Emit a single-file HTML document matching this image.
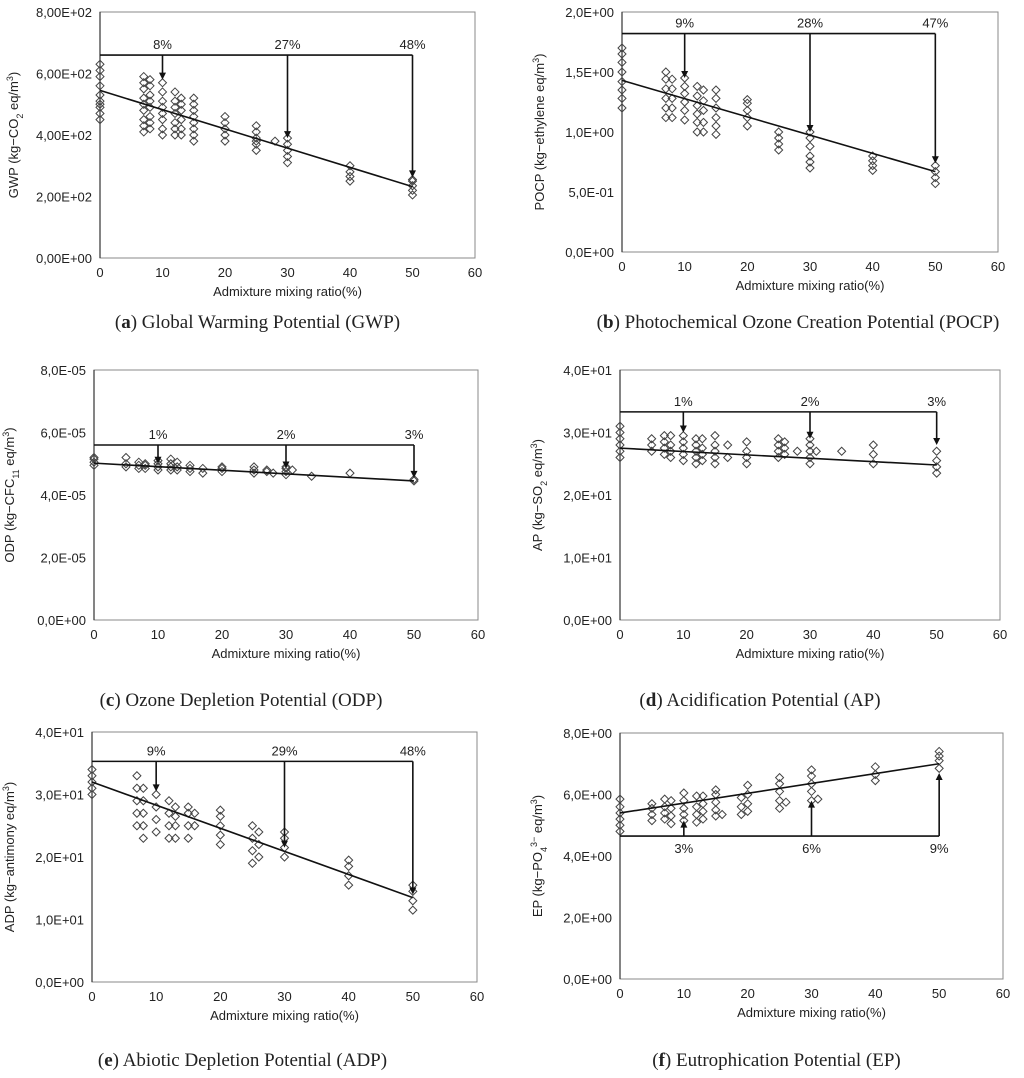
<!DOCTYPE html>
<html><head><meta charset="utf-8"><style>
body{margin:0;background:#fff;width:1024px;height:1078px;overflow:hidden}
svg{display:block}
.t{font-family:"Liberation Sans",sans-serif;font-size:13px;fill:#222}
.cap{font-family:"Liberation Serif",serif;font-size:19px;fill:#222}
</style></head><body>
<svg id="fig" width="1024" height="1078"></svg>
<script>
// ---------- data ----------
const xTicks=[0,10,20,30,40,50,60];
const aX=[0,7,8,10,12,13,15,20,25,28,30,40,50];
const aY=[[450,470,490,500,510,530,560,590,610,630],[410,430,450,480,500,520,550,570,590],[420,440,460,490,510,530,560,580],[400,420,450,470,490,510,540,570],[400,420,440,470,490,510,540],[400,420,450,480,500,520],[380,400,420,440,460,480,500,520],[380,400,420,440,460],[350,370,380,390,410,430],[380],[310,330,350,370,390],[250,265,280,300],[205,220,235,250,255]];
const aTicks=["0,00E+00","2,00E+02","4,00E+02","6,00E+02","8,00E+02"];
const aTrend=[545,232];const aBracket=660;const aArrowTo=[580,390,262];const aPct=["8%","27%","48%"];

const bX=[0,7,8,10,12,13,15,20,25,30,40,50];
const bY=[[1.2,1.28,1.35,1.42,1.5,1.58,1.65,1.7],[1.12,1.2,1.28,1.36,1.44,1.5],[1.12,1.2,1.28,1.36,1.44],[1.1,1.18,1.25,1.32,1.38,1.45],[1.0,1.08,1.15,1.22,1.3,1.38],[1.0,1.08,1.18,1.26,1.35],[0.98,1.05,1.12,1.2,1.28,1.35],[1.05,1.12,1.18,1.24,1.27],[0.85,0.9,0.95,1.0],[0.7,0.75,0.8,0.88,0.95,1.0],[0.68,0.72,0.76,0.8],[0.57,0.62,0.67,0.72]];
const bTicks=["0,0E+00","5,0E-01","1,0E+00","1,5E+00","2,0E+00"];
const bTrend=[1.43,0.67];const bBracket=1.82;const bArrowTo=[1.45,1.0,0.74];const bPct=["9%","28%","47%"];

const cX=[0,5,7,8,10,12,13,15,17,20,25,27,28,30,31,34,40,50];
const cY=[[4.95,5.05,5.15,5.2],[4.9,5.0,5.2],[4.85,4.95,5.05],[4.85,4.95,5.0],[4.8,4.9,5.0,5.1],[4.8,4.9,5.0,5.15],[4.8,4.9,5.05],[4.75,4.85,4.95],[4.7,4.85],[4.75,4.85,4.9],[4.7,4.8,4.9],[4.75,4.8],[4.7],[4.65,4.75,4.85,4.9],[4.8],[4.6],[4.7],[4.45,4.5]];
const cTicks=["0,0E+00","2,0E-05","4,0E-05","6,0E-05","8,0E-05"];
const cTrend=[5.02,4.45];const cBracket=5.6;const cArrowTo=[5.0,4.85,4.55];const cPct=["1%","2%","3%"];

const dX=[0,5,7,8,10,12,13,15,17,20,25,26,28,30,31,35,40,50];
const dY=[[26,27,28,29,30,31],[27,28,29],[26.5,27.5,28.5,29.5],[26,27,28,29.5],[25.5,26.5,27.5,28.5,29.5],[25,26,27,28,29],[25.5,26.5,27.5,29],[25,26,27,28,29.5],[26,28],[25,26,27,28.5],[26,27,28,29],[26.5,27.5,28.5],[27],[25,26,27,28,29],[27],[27],[25,26.5,28],[23.5,24.5,25.5,27]];
const dTicks=["0,0E+00","1,0E+01","2,0E+01","3,0E+01","4,0E+01"];
const dTrend=[27.5,24.8];const dBracket=33.3;const dArrowTo=[30,29,28];const dPct=["1%","2%","3%"];

const eX=[0,7,8,10,12,13,15,16,20,25,26,30,40,50];
const eY=[[30,31,32,33,34],[25,27,29,31,33],[23,25,27,29,31],[24,26,28,30],[23,25,27,29],[23,25,26.5,28],[23,25,27,28],[25,27],[22,23.5,25,26.5,27.5],[19,21,23,25],[20,22,24],[20,21.5,23,24],[15.5,17,18.5,19.5],[11.5,13,14.5,15.5]];
const eTicks=["0,0E+00","1,0E+01","2,0E+01","3,0E+01","4,0E+01"];
const eTrend=[32,13.5];const eBracket=35.3;const eArrowTo=[30.5,21.5,14];const ePct=["9%","29%","48%"];

const fX=[0,5,7,8,10,12,13,15,16,19,20,25,26,30,31,40,50];
const fY=[[4.8,5.0,5.2,5.4,5.6,5.85],[5.15,5.35,5.55,5.7],[5.2,5.4,5.6,5.85],[5.05,5.3,5.55,5.8],[5.15,5.35,5.55,5.8,6.05],[5.1,5.35,5.6,5.95],[5.2,5.45,5.7,5.95],[5.3,5.5,5.75,6.0,6.15],[5.35],[5.35,5.6,5.9],[5.45,5.7,6.0,6.3],[5.55,5.8,6.1,6.35,6.55],[5.75],[5.8,6.1,6.35,6.6,6.8],[5.85],[6.45,6.65,6.9],[6.85,7.1,7.25,7.4]];
const fTicks=["0,0E+00","2,0E+00","4,0E+00","6,0E+00","8,0E+00"];
const fTrend=[5.4,7.0];const fBracket=4.65;const fArrowTo=[5.15,5.8,6.7];const fPct=["3%","6%","9%"];
const arrowX=[10,30,50];

// ---------- drawing ----------
const NS="http://www.w3.org/2000/svg";
const svg=document.getElementById('fig');
function mk(tag,attrs,parent,txt){const e=document.createElementNS(NS,tag);for(const k in attrs)e.setAttribute(k,attrs[k]);if(txt!==undefined)e.textContent=txt;(parent||svg).appendChild(e);return e;}

function panel(id,g,X,Y,ticks,ymax,trend,bracket,arrowTo,pct,title,cap,capBold){
  const grp=mk('g',{});
  
  
  const sx=v=>g.x0+(g.x1-g.x0)*v/60;
  const sy=v=>g.y1-(g.y1-g.y0)*v/ymax;
  const frame=mk('rect',{x:g.x0,y:g.y0,width:g.x1-g.x0,height:g.y1-g.y0,fill:'none',stroke:'#888','stroke-width':1},grp);
  
  
  mk('line',{x1:g.x0,y1:g.y0,x2:g.x0,y2:g.y1,stroke:'#333','stroke-width':1.2},grp);
  ticks.forEach((t,i)=>{
    const tl=mk('text',{x:g.x0-8,y:sy(ymax*i/(ticks.length-1))+5,'text-anchor':'end',class:'t'},grp,t);
    
    
  });
  xTicks.forEach(t=>{
    const tl=mk('text',{x:sx(t),y:g.y1+19,'text-anchor':'middle',class:'t'},grp,String(t));
    
    
  });
  const xt=mk('text',{x:(g.x0+g.x1)/2,y:g.y1+38,'text-anchor':'middle',class:'t'},grp,'Admixture mixing ratio(%)');
  
  
  const yt=mk('text',{transform:`translate(${g.tx},${(g.y0+g.y1)/2}) rotate(-90)`,'text-anchor':'middle',class:'t'},grp);
  
  
  title.forEach(p=>{const s=mk('tspan',p[1]?{'font-size':'9','baseline-shift':p[1]}:{},yt,p[0]);});
  // points
  X.forEach((x,i)=>{Y[i].forEach(v=>{
    const px=sx(x),py=sy(v);
    const d=mk('path',{d:`M${px} ${py-4}L${px+4} ${py}L${px} ${py+4}L${px-4} ${py}Z`,fill:'none',stroke:'#444','stroke-width':1},grp);
    
    
  });});
  const tr=mk('line',{x1:sx(0),y1:sy(trend[0]),x2:sx(50),y2:sy(trend[1]),stroke:'#111','stroke-width':1.6},grp);
  
  
  const br=mk('polyline',{points:`${sx(0)},${sy(bracket)} ${sx(50)},${sy(bracket)}`,stroke:'#111','stroke-width':1.6,fill:'none'},grp);
  
  
  const up=arrowTo[0]>bracket;
  arrowX.forEach((x,i)=>{
    const ax=sx(x),ya=sy(bracket),yb=sy(arrowTo[i]);
    const dir=yb>ya?1:-1;
    const ar=mk('line',{x1:ax,y1:ya,x2:ax,y2:yb-dir*6,stroke:'#111','stroke-width':1.6},grp);
    
    
    mk('path',{d:`M${ax-3.5} ${yb-dir*7}L${ax+3.5} ${yb-dir*7}L${ax} ${yb}Z`,fill:'#111'},grp);
    const pl=mk('text',{x:ax,y:up?ya+17:ya-6,'text-anchor':'middle',class:'t','font-size':'11'},grp,pct[i]);
    
    
  });
  const c=mk('text',{x:(g.x0+g.x1)/2+g.cdx,y:g.cy,'text-anchor':'middle',class:'cap'},grp);
  
  
  mk('tspan',{},c,'(');mk('tspan',{'font-weight':'bold'},c,capBold);mk('tspan',{},c,') '+cap);
}
panel('a',{x0:100,x1:475,y0:12,y1:258,tx:18,cy:328,cdx:-30},aX,aY,aTicks,800,aTrend,aBracket,aArrowTo,aPct,
 [['GWP (kg−CO'],['2','sub'],[' eq/m'],['3','super'],[')']],'Global Warming Potential (GWP)','a');
panel('b',{x0:622,x1:998,y0:12,y1:252,tx:544,cy:328,cdx:-12},bX,bY,bTicks,2,bTrend,bBracket,bArrowTo,bPct,
 [['POCP (kg−ethylene eq/m'],['3','super'],[')']],'Photochemical Ozone Creation Potential (POCP)','b');
panel('c',{x0:94,x1:478,y0:370,y1:620,tx:14,cy:706,cdx:-45},cX,cY,cTicks,8,cTrend,cBracket,cArrowTo,cPct,
 [['ODP (kg−CFC'],['11','sub'],[' eq/m'],['3','super'],[')']],'Ozone Depletion Potential (ODP)','c');
panel('d',{x0:620,x1:1000,y0:370,y1:620,tx:542,cy:706,cdx:-50},dX,dY,dTicks,40,dTrend,dBracket,dArrowTo,dPct,
 [['AP (kg−SO'],['2','sub'],[' eq/m'],['3','super'],[')']],'Acidification Potential (AP)','d');
panel('e',{x0:92,x1:477,y0:732,y1:982,tx:14,cy:1066,cdx:-42},eX,eY,eTicks,40,eTrend,eBracket,eArrowTo,ePct,
 [['ADP (kg−antimony eq/m'],['3','super'],[')']],'Abiotic Depletion Potential (ADP)','e');
panel('f',{x0:620,x1:1003,y0:733,y1:979,tx:542,cy:1066,cdx:-35},fX,fY,fTicks,8,fTrend,fBracket,fArrowTo,fPct,
 [['EP (kg−PO'],['4','sub'],['3−','super'],[' eq/m'],['3','super'],[')']],'Eutrophication Potential (EP)','f');
</script>
</body></html>
